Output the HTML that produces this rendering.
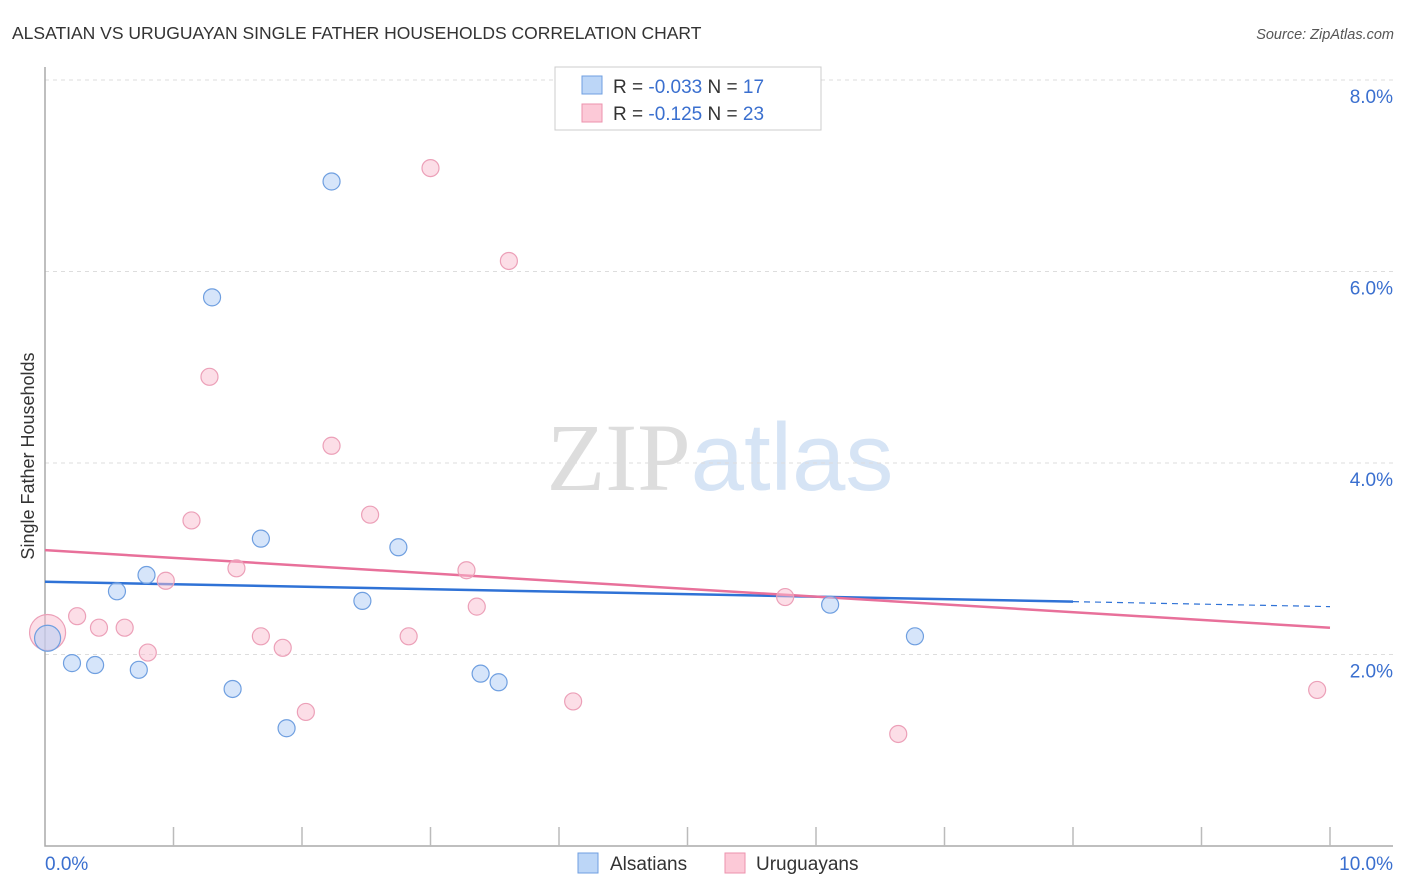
<!DOCTYPE html>
<html><head><meta charset="utf-8"><style>
body{margin:0;background:#fff;font-family:"Liberation Sans",sans-serif}
svg{display:block}
</style></head><body>
<svg id="chart" width="1406" height="892" xmlns="http://www.w3.org/2000/svg">
<text x="12" y="39" font-size="17.5" fill="#333">ALSATIAN VS URUGUAYAN SINGLE FATHER HOUSEHOLDS CORRELATION CHART</text>
<text x="1394" y="39" font-size="14.5" fill="#555" font-style="italic" text-anchor="end">Source: ZipAtlas.com</text>
<text x="720" y="490" font-size="96" text-anchor="middle"><tspan fill="#ddd" font-family="Liberation Serif">ZIP</tspan><tspan fill="#d6e4f5">atlas</tspan></text>
<text transform="translate(34,456) rotate(-90)" font-size="18" fill="#333" text-anchor="middle">Single Father Households</text>
<g id="grid"></g><g id="axes"></g><g id="lines"></g><g id="points"></g>
<g>
<rect x="555" y="67" width="266" height="63" fill="#fff" stroke="#ccc"/>
<rect x="582" y="76" width="20" height="18" fill="#bcd6f7" stroke="#6f9fe0"/>
<rect x="582" y="104" width="20" height="18" fill="#fcc9d7" stroke="#ec92ad"/>
<text x="613" y="93" font-size="19" fill="#333">R = <tspan fill="#3a6fcf">-0.033</tspan>   N =  <tspan fill="#3a6fcf">17</tspan></text>
<text x="613" y="120" font-size="19" fill="#333">R =  <tspan fill="#3a6fcf">-0.125</tspan>   N = <tspan fill="#3a6fcf">23</tspan></text>
</g>
<g>
<rect x="578" y="853" width="20" height="20" fill="#bcd6f7" stroke="#6f9fe0"/>
<text x="610" y="870" font-size="19" fill="#333">Alsatians</text>
<rect x="725" y="853" width="20" height="20" fill="#fcc9d7" stroke="#ec92ad"/>
<text x="756" y="870" font-size="19" fill="#333">Uruguayans</text>
</g>
</svg>
<script>
const yTicks=[2,4,6,8];
const yTickLabels=["2.0%","4.0%","6.0%","8.0%"];
const xTickLabels=["0.0%","10.0%"];
const alsX=[0.02,0.21,0.39,0.56,0.73,0.79,1.30,1.46,1.68,1.88,2.23,2.47,2.75,3.39,3.53,6.11,6.77];
const alsY=[2.17,1.91,1.89,2.66,1.84,2.83,5.73,1.64,3.21,1.23,6.94,2.56,3.12,1.80,1.71,2.52,2.19];
const uruX=[0.02,0.25,0.42,0.62,0.80,0.94,1.14,1.28,1.49,1.68,1.85,2.03,2.23,2.53,2.83,3.00,3.28,3.36,3.61,4.11,5.76,6.64,9.90];
const uruY=[2.23,2.40,2.28,2.28,2.02,2.77,3.40,4.90,2.90,2.19,2.07,1.40,4.18,3.46,2.19,7.08,2.88,2.50,6.11,1.51,2.60,1.17,1.63];
const alsTrend=[2.76,2.50];
const uruTrend=[3.09,2.28];
const X=v=>45+v*128.5, Y=v=>846-v*95.75;
const NS="http://www.w3.org/2000/svg";
function mk(t,a,p){const e=document.createElementNS(NS,t);for(const k in a)e.setAttribute(k,a[k]);document.getElementById(p).appendChild(e);return e;}
yTicks.forEach((t,i)=>{
 const g=mk('line',{x1:45,x2:1393,y1:Y(t),y2:Y(t),stroke:'#ddd','stroke-dasharray':'4,4'},'grid');
 
 
 const l=mk('text',{x:1393,y:Y(t)+23,'font-size':19,fill:'#3a6fcf','text-anchor':'end'},'axes');
 l.textContent=yTickLabels[i];
 
 
});
const ax=mk('path',{d:'M45,67V846H1393',fill:'none',stroke:'#aaa','stroke-width':1.5},'axes');


for(let i=1;i<=10;i++){const t=mk('line',{x1:X(i),x2:X(i),y1:827,y2:846,stroke:'#bbb','stroke-width':1.5},'axes');
 
 }
[[0,'start'],[10,'end']].forEach((p,i)=>{const t=mk('text',{x:p[0]==0?45:1393,y:870,'font-size':19,fill:'#3a6fcf','text-anchor':p[1]},'axes');t.textContent=xTickLabels[i];
 
 });
const xb=8;
const ya=alsTrend[0]+(alsTrend[1]-alsTrend[0])*xb/10;
let l1=mk('line',{x1:X(0),y1:Y(alsTrend[0]),x2:X(xb),y2:Y(ya),stroke:'#2f72d6','stroke-width':2.5},'lines');


let l2=mk('line',{x1:X(xb),y1:Y(ya),x2:X(10),y2:Y(alsTrend[1]),stroke:'#2f72d6','stroke-width':1.2,'stroke-dasharray':'6,5'},'lines');


let l3=mk('line',{x1:X(0),y1:Y(uruTrend[0]),x2:X(10),y2:Y(uruTrend[1]),stroke:'#e8709a','stroke-width':2.5},'lines');


uruX.forEach((x,i)=>{const c=mk('circle',{cx:X(x),cy:Y(uruY[i]),r:i==0?18:8.5,fill:'rgba(250,190,208,0.5)',stroke:'#eca0b8','stroke-width':1.2},'points');
 
 });
alsX.forEach((x,i)=>{const c=mk('circle',{cx:X(x),cy:Y(alsY[i]),r:i==0?13:8.5,fill:'rgba(180,208,245,0.55)',stroke:'#6f9fe0','stroke-width':1.2},'points');
 
 });
</script>
</body></html>
